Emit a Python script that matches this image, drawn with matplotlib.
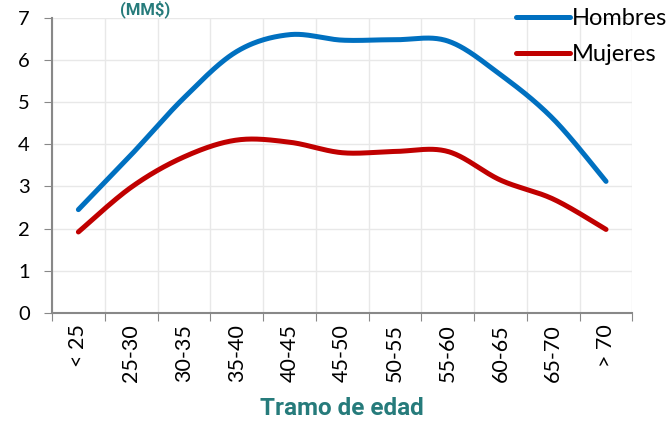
import numpy as np
import matplotlib
matplotlib.use("Agg")
import matplotlib.pyplot as plt

categorias = ["< 25", "25-30", "30-35", "35-40", "40-45", "45-50",
              "50-55", "55-60", "60-65", "65-70", "> 70"]
hombres = [2.45, 3.75, 5.1, 6.2, 6.6, 6.47, 6.48, 6.45, 5.65, 4.6, 3.12]
mujeres = [1.92, 2.98, 3.7, 4.1, 4.05, 3.8, 3.83, 3.83, 3.15, 2.7, 1.98]

teal = "#267b7b"


def suavizar(x, y, n=40):
    # curva tipo Excel (bezier con puntos de control Catmull-Rom)
    x = np.asarray(x, float)
    y = np.asarray(y, float)
    px = np.concatenate([[x[0]], x, [x[-1]]])
    py = np.concatenate([[y[0]], y, [y[-1]]])
    xs, ys = [], []
    t = np.linspace(0, 1, n)
    for i in range(1, len(px) - 2):
        p0 = np.array([px[i], py[i]])
        p3 = np.array([px[i + 1], py[i + 1]])
        c1 = p0 + (np.array([px[i + 1], py[i + 1]]) - np.array([px[i - 1], py[i - 1]])) / 6
        c2 = p3 - (np.array([px[i + 2], py[i + 2]]) - np.array([px[i], py[i]])) / 6
        b = ((1 - t) ** 3)[:, None] * p0 + (3 * (1 - t) ** 2 * t)[:, None] * c1 \
            + (3 * (1 - t) * t ** 2)[:, None] * c2 + (t ** 3)[:, None] * p3
        xs.extend(b[:, 0])
        ys.extend(b[:, 1])
    return np.array(xs), np.array(ys)


plt.rcParams['font.family'] = ['Lato', 'DejaVu Sans']

fig = plt.figure(figsize=(6.71, 4.24), dpi=100)
ax = fig.add_axes([0.0775, 0.262, 0.865, 0.696])

pos = np.arange(len(categorias))
xh, yh = suavizar(pos, hombres)
xm, ym = suavizar(pos, mujeres)
ax.plot(xh, yh, color="#0070c0", lw=3.6, solid_capstyle='round', label="Hombres")
ax.plot(xm, ym, color="#c00000", lw=3.6, solid_capstyle='round', label="Mujeres")

ax.set_xlim(-0.5, len(categorias) - 0.5)
ax.set_ylim(0, 7)
ax.set_yticks(range(0, 8))
ax.set_xticks(np.arange(-0.5, len(categorias), 1.0))
ax.set_xticklabels([])
ax.set_xticks(pos, minor=True)
ax.set_xticklabels(categorias, minor=True, rotation=90, fontsize=15.5)
ax.tick_params(axis='x', which='minor', length=0, pad=8)
ax.tick_params(axis='x', which='major', length=6, color="#888888")
ax.tick_params(axis='y', length=6, color="#888888", labelsize=14.5, pad=10)

ax.grid(True, which='major', color="#e8e8e8", lw=1)
ax.set_axisbelow(True)
for s in ['top', 'right']:
    ax.spines[s].set_visible(False)
for s in ['left', 'bottom']:
    ax.spines[s].set_color("#888888")
    ax.spines[s].set_linewidth(1.5)

ax.set_xlabel("Tramo de edad", color=teal, fontsize=17.5, fontweight='bold',
              family=['Roboto', 'DejaVu Sans'], labelpad=11)
fig.text(0.216, 1.0, "(MM$)", color=teal, fontsize=12, fontweight='bold',
         family=['Roboto', 'DejaVu Sans'], ha='center', va='top')

fig.legend(loc='upper right', bbox_to_anchor=(1.0, 0.99), frameon=False,
           fontsize=17, handlelength=2.3, handletextpad=0.1, borderaxespad=0.1,
           labelspacing=0.65, borderpad=0.05)

fig.savefig("out.png", dpi=100)
